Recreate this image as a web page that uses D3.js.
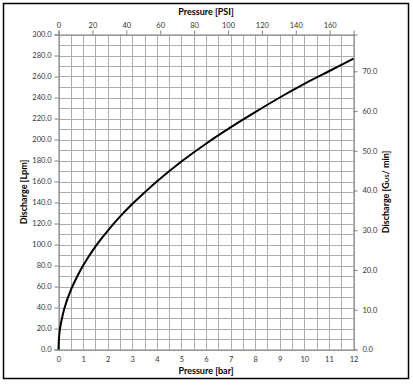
<!DOCTYPE html>
<html><head><meta charset="utf-8">
<script src="https://cdn.jsdelivr.net/npm/d3@7"></script>
<style>
html,body{margin:0;padding:0;background:#fff;}
svg text{font-family:Lato,"Open Sans",sans-serif;}
</style></head>
<body><svg id="c" width="413" height="385"></svg>
<script>
// Data
const pressureBar = [0, 0.02, 0.05, 0.1, 0.25, 0.5, 0.75, 1, 1.5, 2, 2.5, 3, 3.5, 4, 5, 6, 7, 8, 9, 10, 11, 12];
const dischargeLpm = [0, 11, 18, 25, 40, 56.5, 69, 80, 98, 113, 126.5, 138.5, 149.5, 160, 179, 196, 211.5, 226, 240, 253, 265, 277];
const barTicks = [0,1,2,3,4,5,6,7,8,9,10,11,12];
const psiTicks = [0,20,40,60,80,100,120,140,160];
const lpmTicks = [0,20,40,60,80,100,120,140,160,180,200,220,240,260,280,300];
const gpmTicks = [0,10,20,30,40,50,60,70];
const LPM_PER_GAL = 3.785;
const PSI_PER_BAR = 14.5038;

const svg = d3.select("#c");
const m = {l:58.5, r:353.5, t:34.5, b:349.5};

svg.append("rect").attr("x",3.5).attr("y",3.5).attr("width",405).attr("height",375)
  .attr("fill","#fff").attr("stroke","#000").attr("stroke-width",1.5);

const x = d3.scaleLinear().domain([0,12]).range([m.l,m.r]);
const xPsi = d3.scaleLinear().domain([0,12*PSI_PER_BAR]).range([m.l,m.r]);
const y = d3.scaleLinear().domain([0,300]).range([m.b,m.t]);
const yG = d3.scaleLinear().domain([0,300/LPM_PER_GAL]).range([m.b,m.t]);

const g = svg.append("g");
const vgrid = d3.range(0, 12.01, 0.5);
const hgrid = d3.range(0, 300.1, 10);
g.selectAll(".vg").data(vgrid).join("line")
  .attr("x1",d=>Math.round(x(d))+0.5).attr("x2",d=>Math.round(x(d))+0.5)
  .attr("y1",m.t).attr("y2",m.b).attr("stroke","#acacac").attr("stroke-width",1);
g.selectAll(".hg").data(hgrid).join("line")
  .attr("y1",d=>Math.round(y(d))+0.5).attr("y2",d=>Math.round(y(d))+0.5)
  .attr("x1",m.l).attr("x2",m.r).attr("stroke","#acacac").attr("stroke-width",1);

const fmt1 = d3.format(".1f");
const tickCol = "#333";
function styleAxis(sel){
  sel.select(".domain").attr("stroke","#808080");
  sel.selectAll(".tick line").attr("stroke","#808080");
  sel.selectAll(".tick text").attr("fill",tickCol).style("font-size","7.5px");
}
svg.append("g").attr("transform",`translate(${m.l},0)`)
  .call(d3.axisLeft(y).tickValues(lpmTicks).tickFormat(fmt1).tickSize(4).tickPadding(3))
  .call(styleAxis);
svg.append("g").attr("transform",`translate(${m.r},0)`)
  .call(d3.axisRight(yG).tickValues(gpmTicks).tickFormat(fmt1).tickSize(4).tickPadding(5))
  .call(styleAxis);
svg.append("g").attr("transform",`translate(0,${m.b})`)
  .call(d3.axisBottom(x).tickValues(barTicks).tickFormat(d3.format("d")).tickSize(0).tickPadding(7))
  .call(styleAxis);
svg.append("g").attr("transform",`translate(0,${m.t})`)
  .call(d3.axisTop(xPsi).tickValues(psiTicks).tickFormat(d3.format("d")).tickSize(4).tickPadding(3))
  .call(styleAxis);

const pts = pressureBar.map((p,i)=>[p, dischargeLpm[i]]);
svg.append("path").datum(pts)
  .attr("d", d3.line().x(d=>x(d[0])).y(d=>y(d[1])).curve(d3.curveCatmullRom.alpha(0.5)))
  .attr("fill","none").attr("stroke","#000").attr("stroke-width",2);

function title(t, xx, yy, rot){
  return svg.append("text").attr("text-anchor","middle")
    .attr("transform",`translate(${xx},${yy}) rotate(${rot||0})`).text(t)
    .style("font-size","9px").style("font-weight","bold").style("fill","#000");
}
title("Pressure [PSI]", 206, 15);
title("Pressure [bar]", 206, 374);
title("Discharge [Lpm]", 27, 192, -90);
const rt = svg.append("text").attr("text-anchor","middle")
  .attr("transform","translate(389,192) rotate(-90)")
  .style("font-size","9px").style("font-weight","bold");
rt.append("tspan").text("Discharge [G");
rt.append("tspan").text("US").style("font-size","6px");
rt.append("tspan").text("/ min]");
</script></body></html>
